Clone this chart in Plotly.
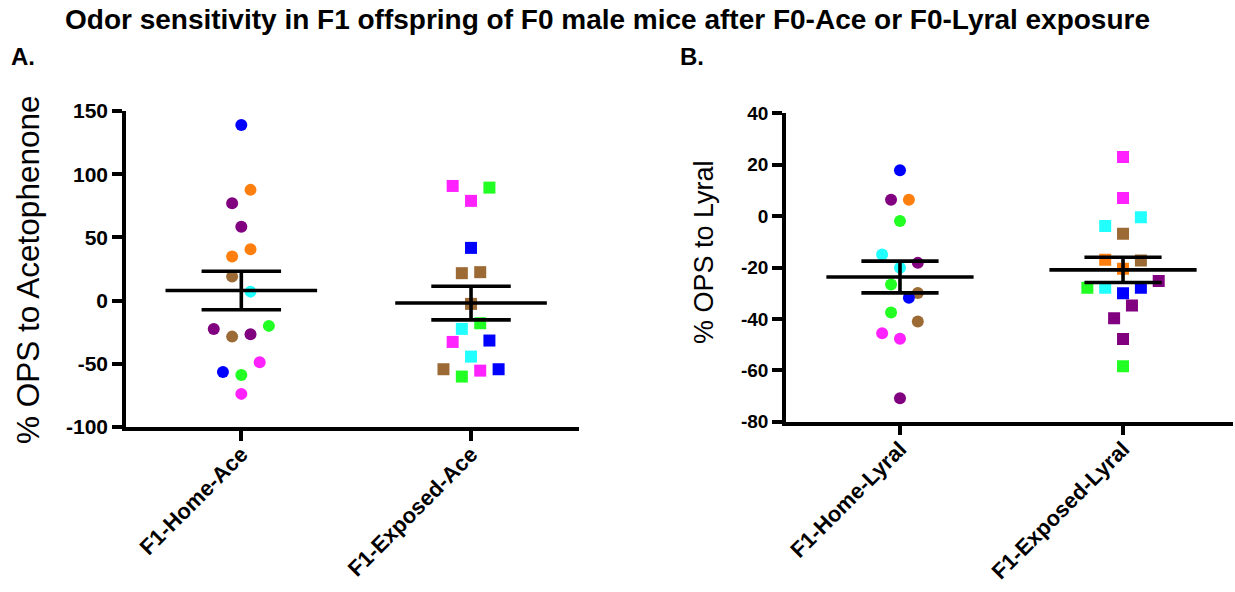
import numpy as np
import plotly.graph_objects as go

# ---------------- data ----------------
PALETTE = {
    "blue": "#0000FF", "orange": "#FF7F0E", "purple": "#800080", "brown": "#9C6A35",
    "cyan": "#22FFFF", "green": "#22FF22", "magenta": "#FF22FF",
}

categories_a = ["F1-Home-Ace", "F1-Exposed-Ace"]
categories_b = ["F1-Home-Lyral", "F1-Exposed-Lyral"]

home_ace_values = [139, 87.6, 77, 58.5, 40.6, 34.8, 19, 7.1, -22.4, -28.5, -26.6, -20, -48.8, -56.4, -58.8, -73.8]
home_ace_colors = ["blue", "orange", "purple", "purple", "orange", "orange", "brown", "cyan",
                   "purple", "brown", "purple", "green", "magenta", "blue", "green", "magenta"]
home_ace_slots = [0, 1, -1, 0, 1, -1, -1, 1, -3, -1, 1, 3, 2, -2, 0, 0]

exp_ace_values = [90.7, 89.4, 78.9, 41.7, 21.7, 22.5, -2.6, -17.9, -22.4, -32.7, -31.6, -44.3, -54.3, -60.1, -55.4, -54.3]
exp_ace_colors = ["magenta", "green", "magenta", "blue", "brown", "brown", "brown", "green",
                  "cyan", "magenta", "blue", "cyan", "brown", "green", "magenta", "blue"]
exp_ace_slots = [-2, 2, 0, 0, -1, 1, 0, 1, -1, -2, 2, 0, -3, -1, 1, 3]

home_lyral_values = [17.8, 6.4, 6.4, -1.9, -14.9, -18.2, -20.1, -26.6, -29.9, -31.8, -37.5, -41.0, -45.6, -47.7, -70.9]
home_lyral_colors = ["blue", "purple", "orange", "green", "cyan", "purple", "cyan", "green",
                     "brown", "blue", "green", "brown", "magenta", "magenta", "purple"]
home_lyral_slots = [0, -1, 1, 0, -2, 2, 0, -1, 2, 1, -1, 2, -2, 0, 0]

exp_lyral_values = [23.0, 7.0, -0.4, -3.9, -6.9, -17.0, -17.3, -20.5, -25.3, -27.9, -27.9, -27.9,
                    -30.0, -34.8, -39.7, -47.8, -58.4]
exp_lyral_colors = ["magenta", "magenta", "cyan", "cyan", "brown", "orange", "brown", "orange", "purple",
                    "green", "cyan", "blue", "blue", "purple", "purple", "purple", "green"]
exp_lyral_slots = [0, 0, 2, -2, 0, -2, 2, 0, 4, -4, -2, 2, 0, 1, -1, 0, 0]

yticks_a = [-100, -50, 0, 50, 100, 150]
ytick_labels_a = ["-100", "-50", "0", "50", "100", "150"]
yticks_b = [-80, -60, -40, -20, 0, 20, 40]
ytick_labels_b = ["-80", "-60", "-40", "-20", "0", "20", "40"]

# ---------------- figure ----------------
W, H = 1235, 592
FONT = "Liberation Sans, Arial, sans-serif"
SLOT = 0.04
MEAN_HALF = 0.33
CAP_HALF = 0.173

fig = go.Figure()


def add_group(xref, yref, idx, values, colors, slots, symbol):
    xs = [idx + s * SLOT for s in slots]
    fig.add_trace(go.Scatter(
        x=xs, y=values, mode="markers", xaxis=xref, yaxis=yref, showlegend=False,
        marker=dict(symbol=symbol, size=12, color=[PALETTE[c] for c in colors], line=dict(width=0)),
    ))


def add_mean_sem(xref, yref, idx, values):
    v = np.array(values, dtype=float)
    m = v.mean()
    sem = v.std(ddof=1) / np.sqrt(len(v))
    xs = [idx - MEAN_HALF, idx + MEAN_HALF, None,
          idx - CAP_HALF, idx + CAP_HALF, None,
          idx - CAP_HALF, idx + CAP_HALF, None,
          idx, idx]
    ys = [m, m, None, m + sem, m + sem, None, m - sem, m - sem, None, m + sem, m - sem]
    fig.add_trace(go.Scatter(x=xs, y=ys, mode="lines", xaxis=xref, yaxis=yref, showlegend=False,
                             line=dict(color="black", width=3.6), hoverinfo="skip"))


add_group("x", "y", 0, home_ace_values, home_ace_colors, home_ace_slots, "circle")
add_group("x", "y", 1, exp_ace_values, exp_ace_colors, exp_ace_slots, "square")
add_group("x2", "y2", 0, home_lyral_values, home_lyral_colors, home_lyral_slots, "circle")
add_group("x2", "y2", 1, exp_lyral_values, exp_lyral_colors, exp_lyral_slots, "square")
for v, i in [(home_ace_values, 0), (exp_ace_values, 1)]:
    add_mean_sem("x", "y", i, v)
for v, i in [(home_lyral_values, 0), (exp_lyral_values, 1)]:
    add_mean_sem("x2", "y2", i, v)


def px_x(a, b):
    return [a / W, b / W]


def px_y(top, bottom):
    return [1 - bottom / H, 1 - top / H]


def axis_style(size):
    return dict(showgrid=False, zeroline=False, showline=True, linecolor="black", linewidth=3.5,
                ticks="outside", tickwidth=3.5, tickcolor="black", ticklen=10, automargin=False,
                tickfont=dict(family=FONT, size=size, color="black", weight="bold"))


fig.update_layout(
    width=W, height=H, margin=dict(l=0, r=0, t=0, b=0),
    paper_bgcolor="white", plot_bgcolor="white", showlegend=False,
    xaxis=dict(domain=px_x(126, 579), range=[-0.502, 1.47], tickmode="array", tickvals=[0, 1],
               ticktext=categories_a, tickangle=-45, anchor="y", ticklabelstandoff=-8, **axis_style(22)),
    yaxis=dict(domain=px_y(111, 427), range=[-100, 150], tickmode="array", tickvals=yticks_a,
               ticktext=ytick_labels_a, anchor="x", **axis_style(21)),
    xaxis2=dict(domain=px_x(786, 1233), range=[-0.511, 1.493], tickmode="array", tickvals=[0, 1],
                ticktext=categories_b, tickangle=-45, anchor="y2", ticklabelstandoff=-8, **axis_style(22)),
    yaxis2=dict(domain=px_y(113.3, 421.7), range=[-80, 40], tickmode="array", tickvals=yticks_b,
                ticktext=ytick_labels_b, anchor="x2", **axis_style(19)),
)

annotations = [
    dict(text="<b>Odor sensitivity in F1 offspring of F0 male mice after F0-Ace or F0-Lyral exposure</b>",
         x=607 / W, y=1 - 19 / H, font=dict(family=FONT, size=28, color="black")),
    dict(text="<b>A.</b>", x=23 / W, y=1 - 56 / H, font=dict(family=FONT, size=24, color="black")),
    dict(text="<b>B.</b>", x=692 / W, y=1 - 56 / H, font=dict(family=FONT, size=24, color="black")),
    dict(text="% OPS to Acetophenone", x=28 / W, y=1 - 270 / H, textangle=-90,
         font=dict(family=FONT, size=31.5, color="black")),
    dict(text="% OPS to Lyral", x=704 / W, y=1 - 252 / H, textangle=-90,
         font=dict(family=FONT, size=27, color="black")),
]
for a in annotations:
    a.update(xref="paper", yref="paper", showarrow=False, xanchor="center", yanchor="middle")
fig.update_layout(annotations=annotations)

fig.write_html("out.html")
